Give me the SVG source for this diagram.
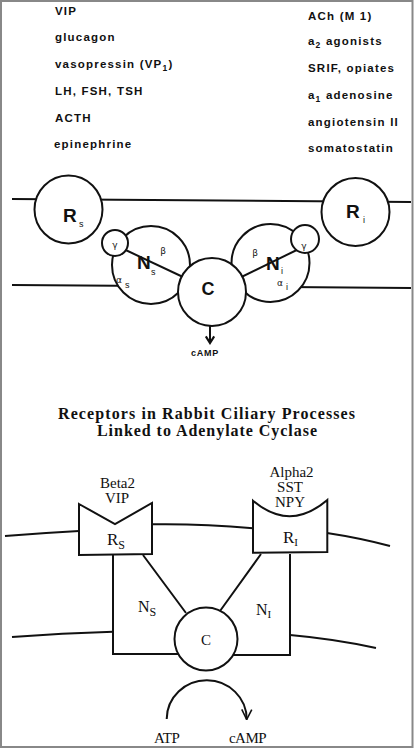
<svg xmlns="http://www.w3.org/2000/svg" width="416" height="750" viewBox="0 0 416 750">
<style>
.lst{font-family:"Liberation Sans",Arial,sans-serif;font-weight:bold;font-size:11.5px;letter-spacing:1.2px;fill:#111}
.ln{stroke:#111;stroke-width:2;fill:none}
.nd{stroke:#111;stroke-width:2;fill:#fff}
.big{font-family:"Liberation Sans",Arial,sans-serif;font-weight:bold;fill:#111}
.gr{font-family:"DejaVu Sans","Liberation Sans",sans-serif;font-size:9px;fill:#111}
.sb{font-family:"Liberation Sans",Arial,sans-serif;font-size:9px;fill:#111}
.sf{font-family:"Liberation Serif","Times New Roman",serif;fill:#111}
</style>
<defs>
<marker id="vOpen" viewBox="0 0 12 12" refX="11" refY="6" markerWidth="12" markerHeight="12" markerUnits="userSpaceOnUse" orient="auto">
<path d="M1 1 L11 6 L1 11" fill="none" stroke="#111" stroke-width="1.6"/>
</marker>
<marker id="vThick" viewBox="0 0 12 12" refX="10" refY="6" markerWidth="10" markerHeight="12" markerUnits="userSpaceOnUse" orient="auto">
<path d="M2 1 L10 6 L2 11" fill="none" stroke="#111" stroke-width="2.6"/>
</marker>
</defs>
<rect x="0" y="0" width="416" height="750" fill="#fff"/>
<rect x="1" y="1" width="411.5" height="746" fill="none" stroke="#888" stroke-width="2"/>

<!-- ligand lists -->
<g id="stimulatory-list" class="lst">
<text x="55" y="15">VIP</text>
<text x="55" y="41">glucagon</text>
<text x="55" y="68">vasopressin  (VP<tspan font-size="8.5" dy="2.5">1</tspan><tspan dy="-2.5">)</tspan></text>
<text x="55" y="95">LH,  FSH,  TSH</text>
<text x="55" y="122">ACTH</text>
<text x="54" y="148">epinephrine</text>
</g>
<g id="inhibitory-list" class="lst">
<text x="308" y="20">ACh (M 1)</text>
<text x="308" y="45">a<tspan font-size="8.5" dy="2.5">2</tspan><tspan dy="-2.5"> agonists</tspan></text>
<text x="308" y="72">SRIF,  opiates</text>
<text x="308" y="99">a<tspan font-size="8.5" dy="2.5">1</tspan><tspan dy="-2.5">  adenosine</tspan></text>
<text x="308" y="126">angiotensin  II</text>
<text x="308" y="152">somatostatin</text>
</g>

<!-- top membrane -->
<g id="membrane-top">
<line class="ln" x1="12" y1="199" x2="411" y2="202"/>
<line class="ln" x1="12" y1="285" x2="411" y2="288"/>
</g>

<g id="Rs-top">
<circle class="nd" cx="68.5" cy="209.5" r="34"/>
<text class="big" x="63" y="221.5" font-size="19">R</text>
<text class="sb" x="79" y="227">s</text>
</g>
<g id="Ri-top">
<circle class="nd" cx="355.5" cy="212" r="34"/>
<text class="big" x="346" y="217.5" font-size="19">R</text>
<text class="sb" x="363" y="223">i</text>
</g>
<g id="Ns-top">
<circle class="nd" cx="151" cy="265" r="39"/>
<line class="ln" x1="115" y1="245" x2="200" y2="285"/>
<circle class="nd" cx="115" cy="243" r="13"/>
<text class="gr" x="115" y="248" text-anchor="middle">γ</text>
<text class="big" x="137" y="269" font-size="19">N</text>
<text class="sb" x="151" y="275">s</text>
<text class="gr" x="163" y="254" text-anchor="middle">β</text>
<text class="gr" x="116" y="283">α</text>
<text class="sb" x="125" y="288">s</text>
</g>
<g id="Ni-top">
<circle class="nd" cx="270.5" cy="263" r="39"/>
<line class="ln" x1="225" y1="285" x2="305" y2="246"/>
<circle class="nd" cx="305" cy="239" r="14"/>
<text class="gr" x="304" y="249" text-anchor="middle">γ</text>
<text class="big" x="266" y="270" font-size="19">N</text>
<text class="sb" x="281" y="274">i</text>
<text class="gr" x="277" y="286">α</text>
<text class="sb" x="286" y="290">i</text>
<text class="gr" x="255" y="256" text-anchor="middle">β</text>
</g>
<g id="C-top">
<circle class="nd" cx="212" cy="292" r="34"/>
<text class="big" x="208" y="295" font-size="18" text-anchor="middle">C</text>
</g>
<g id="connectors-top">
<line class="ln" x1="210" y1="326" x2="210" y2="343" marker-end="url(#vThick)"/>
</g>
<text class="big" x="205" y="356" font-size="9" letter-spacing="0.8" text-anchor="middle">cAMP</text>

<!-- title -->
<g id="title" class="sf" font-weight="bold" font-size="16">
<text x="58" y="419" textLength="297" lengthAdjust="spacing">Receptors in Rabbit Ciliary Processes</text>
<text x="97" y="436" textLength="220" lengthAdjust="spacing">Linked to Adenylate Cyclase</text>
</g>

<!-- bottom membrane -->
<g id="membrane-bottom">
<path class="ln" d="M5 536 Q42 533 79 531"/>
<path class="ln" d="M152 524.3 Q200 523.5 253 528.3"/>
<path class="ln" d="M327 533 Q360 538 390 546"/>
<path class="ln" d="M12 637 Q62 633 113 631.7"/>
<path class="ln" d="M290 635 Q335 639 376 648"/>
</g>

<g id="Rs-bottom">
<text class="sf" x="117.5" y="488" font-size="15" text-anchor="middle">Beta2</text>
<text class="sf" x="117" y="503" font-size="15" text-anchor="middle">VIP</text>
<path class="nd" d="M79 504 L115 524 L152 503 L152 554 L79 555 Z"/>
<text class="sf" x="107" y="545" font-size="17">R<tspan font-size="12" dy="4">S</tspan></text>
</g>
<g id="Ri-bottom">
<text class="sf" x="291.5" y="477" font-size="15" text-anchor="middle">Alpha2</text>
<text class="sf" x="290" y="492" font-size="15" text-anchor="middle">SST</text>
<text class="sf" x="290" y="507" font-size="15" text-anchor="middle">NPY</text>
<path class="nd" d="M253 500.7 Q290 532 327.3 500 L327.3 552 L253 552.7 Z"/>
<text class="sf" x="283" y="543" font-size="17">R<tspan font-size="11" dy="3">I</tspan></text>
</g>
<g id="Ns-bottom">
<path class="ln" d="M113 555 L113 654 L178 654 M143 555 L186 613"/>
<text class="sf" x="138" y="612" font-size="16">N<tspan font-size="12" dy="4">S</tspan></text>
</g>
<g id="Ni-bottom">
<path class="ln" d="M290 554 L290 655 L233 655 M261 554 L220 611"/>
<text class="sf" x="256" y="615" font-size="16">N<tspan font-size="11" dy="3">I</tspan></text>
</g>
<g id="C-bottom">
<circle class="nd" cx="206" cy="639" r="31.5"/>
<text class="sf" x="206" y="645" font-size="15" text-anchor="middle">C</text>
</g>
<g id="connectors-bottom">
<path class="ln" d="M166.7 719 A40 39 0 0 1 246.7 719.5" marker-end="url(#vOpen)"/>
</g>
<text class="sf" x="166.7" y="743" font-size="15" text-anchor="middle" letter-spacing="-0.5">ATP</text>
<text class="sf" x="247.5" y="743" font-size="15" text-anchor="middle" letter-spacing="-0.5">cAMP</text>
</svg>
